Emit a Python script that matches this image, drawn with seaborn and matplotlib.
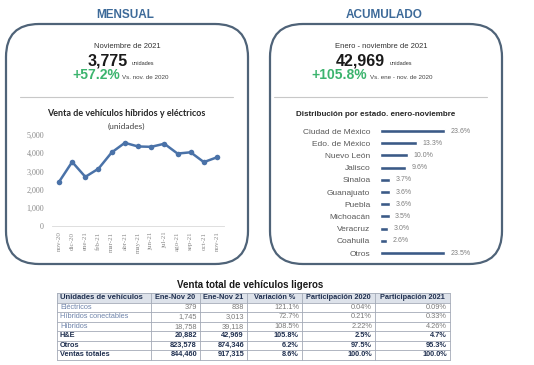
import matplotlib.pyplot as plt
import seaborn as sns
import pandas as pd
from matplotlib.patches import FancyBboxPatch, Rectangle

# --- data ---
meses = ['nov-20', 'dic-20', 'ene-21', 'feb-21', 'mar-21', 'abr-21', 'may-21',
         'jun-21', 'jul-21', 'ago-21', 'sep-21', 'oct-21', 'nov-21']
ventas_hye = [2420, 3520, 2700, 3150, 4040, 4570, 4370, 4350, 4520, 3980, 4050, 3510, 3775]

estados = ['Ciudad de México', 'Edo. de México', 'Nuevo León', 'Jalisco', 'Sinaloa',
           'Guanajuato', 'Puebla', 'Michoacán', 'Veracruz', 'Coahuila', 'Otros']
participacion = [23.6, 13.3, 10.0, 9.6, 3.7, 3.6, 3.6, 3.5, 3.0, 2.6, 23.5]

encabezados = ['Unidades de vehículos', 'Ene-Nov 20', 'Ene-Nov 21', 'Variación %',
               'Participación 2020', 'Participación 2021']
tipos = ['Eléctricos', 'Híbridos conectables', 'Híbridos', 'H&E', 'Otros', 'Ventas totales']
ene_nov_20 = ['379', '1,745', '18,758', '20,882', '823,578', '844,460']
ene_nov_21 = ['838', '3,013', '39,118', '42,969', '874,346', '917,315']
variacion = ['121.1%', '72.7%', '108.5%', '105.8%', '6.2%', '8.6%']
part_2020 = ['0.04%', '0.21%', '2.22%', '2.5%', '97.5%', '100.0%']
part_2021 = ['0.09%', '0.33%', '4.26%', '4.7%', '95.3%', '100.0%']

W, H = 534, 365
BLUE_TITLE = '#3d6a99'
GREEN = '#3cb46e'
BOX_EDGE = '#4f6378'
LINE_BLUE = '#4a72a8'
BAR_BLUE = '#3b5a87'
ARIAL = 'Liberation Sans'
CALIBRI = 'Lato'
TICK_FONT = 'Liberation Serif'


def px_axes(fig, left, top, right, bottom):
    """Add an axes placed by pixel edges (y measured from top)"""
    return fig.add_axes([left / W, 1 - bottom / H, (right - left) / W, (bottom - top) / H])


sns.set_theme(style='white')
plt.rcParams['font.family'] = [ARIAL, 'DejaVu Sans']

fig = plt.figure(figsize=(W / 100, H / 100), dpi=100)
fig.patch.set_facecolor('white')

# overlay in pixel coordinates
bg = fig.add_axes([0, 0, 1, 1])
bg.set_xlim(0, W)
bg.set_ylim(H, 0)
bg.axis('off')
bg.patch.set_alpha(0)

# panels
for x0, x1 in [(6, 248), (270, 502)]:
    bg.add_patch(FancyBboxPatch((x0, 24), x1 - x0, 240,
                                boxstyle='round,pad=0,rounding_size=33',
                                facecolor='white', edgecolor=BOX_EDGE, linewidth=1.6))

bg.text(125, 15, 'MENSUAL', ha='center', va='center', fontsize=8.5,
        fontweight='bold', color=BLUE_TITLE)
bg.text(384, 15, 'ACUMULADO', ha='center', va='center', fontsize=8.5,
        fontweight='bold', color=BLUE_TITLE)

# headline figures
bg.text(127, 46, 'Noviembre de 2021', ha='center', va='center', fontsize=5.5, color='#333333')
bg.text(128, 65, '3,775', ha='right', va='baseline', fontsize=11.5, fontweight='bold', color='#1a1a1a')
bg.text(132, 65, 'unidades', ha='left', va='baseline', fontsize=4, color='#333333')
bg.text(120, 79, '+57.2%', ha='right', va='baseline', fontsize=10, fontweight='bold', color=GREEN)
bg.text(122, 79, 'Vs. nov. de 2020', ha='left', va='baseline', fontsize=4.5, color='#444444')

bg.text(381, 46, 'Enero - noviembre de 2021', ha='center', va='center', fontsize=5.5, color='#333333')
bg.text(385, 65, '42,969', ha='right', va='baseline', fontsize=11.5, fontweight='bold', color='#1a1a1a')
bg.text(390, 65, 'unidades', ha='left', va='baseline', fontsize=4, color='#333333')
bg.text(367, 79, '+105.8%', ha='right', va='baseline', fontsize=10, fontweight='bold', color=GREEN)
bg.text(370, 79, 'Vs. ene - nov. de 2020', ha='left', va='baseline', fontsize=4.5, color='#444444')

bg.plot([20, 233], [97, 97], color='#c8c8c8', lw=0.8)
bg.plot([274, 487], [97, 97], color='#c8c8c8', lw=0.8)

bg.text(126, 113, 'Venta de vehículos híbridos y eléctricos', ha='center', va='center',
        fontsize=6.5, fontweight='bold', color='#262626', family=CALIBRI)
bg.text(126, 126, '(unidades)', ha='center', va='center', fontsize=6, color='#404040', family=CALIBRI)
bg.text(376, 114, 'Distribución por estado. enero-noviembre', ha='center', va='center',
        fontsize=5.8, fontweight='bold', color='#262626')

# line chart
ax1 = px_axes(fig, 52.4, 135, 223.6, 226)
ax1.patch.set_alpha(0)
df_line = pd.DataFrame({'pos': range(len(meses)), 'ventas': ventas_hye})
sns.lineplot(data=df_line, x='pos', y='ventas', ax=ax1, color=LINE_BLUE, linewidth=1.8,
             marker='o', markersize=4, markeredgewidth=0)
ax1.set_xlim(-0.5, len(meses) - 0.5)
ax1.set_ylim(0, 5000)
ax1.set_yticks(range(0, 5001, 1000))
ax1.set_yticklabels([f'{v:,}' for v in range(0, 5001, 1000)])
ax1.set_xticks(range(len(meses)))
ax1.set_xticklabels(meses, rotation=90)
ax1.tick_params(axis='y', length=0, labelsize=5.8, labelcolor='#8a8a8a', pad=6)
ax1.tick_params(axis='x', length=0, labelsize=5, labelcolor='#8a8a8a', pad=4)
for lbl in ax1.get_xticklabels() + ax1.get_yticklabels():
    lbl.set_family(TICK_FONT)
ax1.set_xlabel('')
ax1.set_ylabel('')
for side in ['top', 'right', 'left']:
    ax1.spines[side].set_visible(False)
ax1.spines['bottom'].set_color('#d9d9d9')
ax1.spines['bottom'].set_linewidth(0.6)

# bar chart
ax2 = px_axes(fig, 380, 124.9, 462.5, 259.1)
ax2.patch.set_alpha(0)
df_bar = pd.DataFrame({'estado': estados, 'pct': participacion})
sns.barplot(data=df_bar, x='pct', y='estado', orient='h', ax=ax2, color=BAR_BLUE,
            width=0.33, saturation=1)
ax2.set_xlim(0, 30)
ax2.set_ylim(len(estados) - 0.5, -0.5)
for i, v in enumerate(participacion):
    ax2.text(v + 2.0, i, f'{v:.1f}%', va='center', ha='left', fontsize=5, color='#7f7f7f')
ax2.set_xticks([])
ax2.tick_params(axis='y', length=0, labelsize=6, labelcolor='#595959', pad=7)
ax2.set_xlabel('')
ax2.set_ylabel('')
sns.despine(ax=ax2, left=True, bottom=True)

# table
bg.text(250, 285, 'Venta total de vehículos ligeros', ha='center', va='center',
        fontsize=7, fontweight='bold', color='#1a1a1a')
col_edges = [57, 151, 200, 247, 302, 375, 450]
top, row_h = 293, 9.5
columnas = [tipos, ene_nov_20, ene_nov_21, variacion, part_2020, part_2021]
n_rows = len(tipos) + 1
bg.add_patch(Rectangle((col_edges[0], top), col_edges[-1] - col_edges[0], row_h,
                       facecolor='#dde2ea', edgecolor='none'))
for r in range(n_rows + 1):
    bg.plot([col_edges[0], col_edges[-1]], [top + r * row_h] * 2, color='#a3aab7', lw=0.6)
for c in col_edges:
    bg.plot([c, c], [top, top + n_rows * row_h], color='#a3aab7', lw=0.6)
for j, head in enumerate(encabezados):
    yc = top + row_h / 2
    if j == 0:
        bg.text(col_edges[0] + 3, yc, head, ha='left', va='center', fontsize=5.5,
                fontweight='bold', color='#1f2f4f')
    else:
        bg.text((col_edges[j] + col_edges[j + 1]) / 2, yc, head, ha='center', va='center',
                fontsize=5.3, fontweight='bold', color='#1f2f4f')
for i in range(len(tipos)):
    yc = top + (i + 1.5) * row_h
    bold = i >= 3
    for j, col in enumerate(columnas):
        if j == 0:
            bg.text(col_edges[0] + 3, yc, col[i], ha='left', va='center', fontsize=5.3,
                    fontweight='bold' if bold else 'normal',
                    color='#1f2f4f' if bold else '#6f84ab')
        else:
            bg.text(col_edges[j + 1] - 3, yc, col[i], ha='right', va='center', fontsize=5.3,
                    fontweight='bold' if bold else 'normal',
                    color='#1f2f4f' if bold else '#7a7a7a')

fig.savefig('out.png', dpi=100, facecolor='white')
